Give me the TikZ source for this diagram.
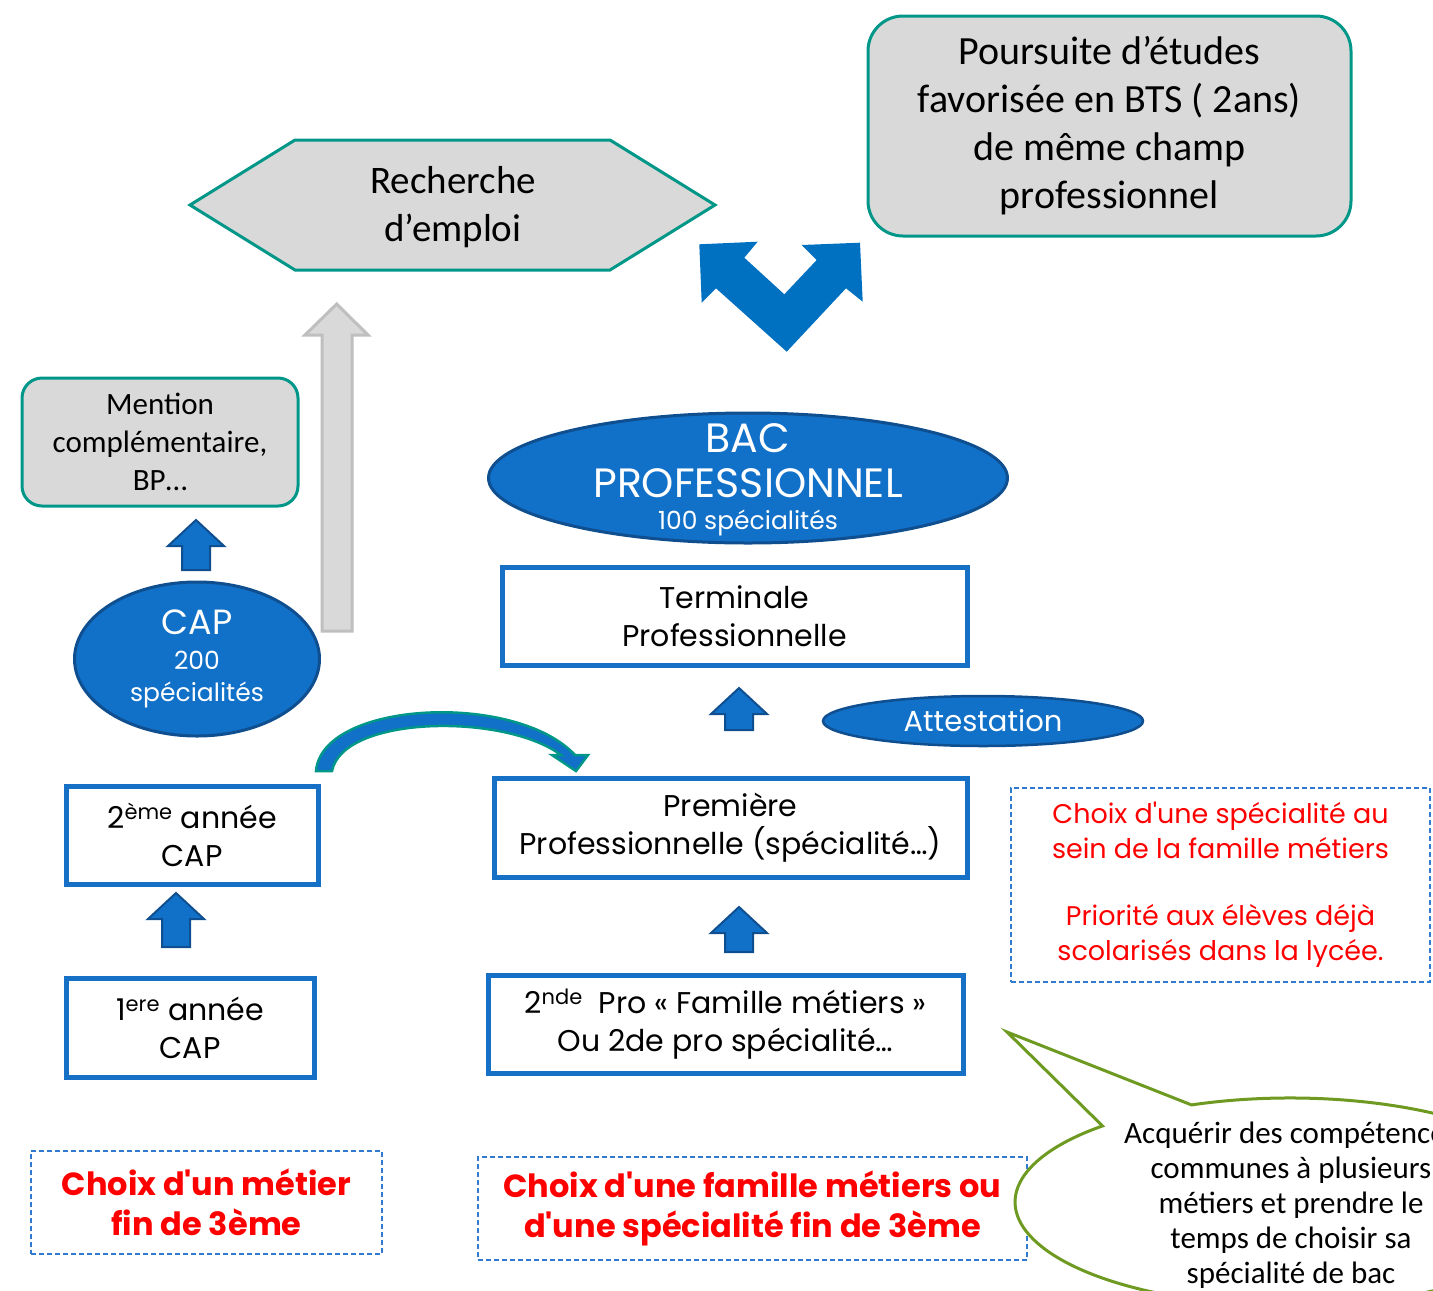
\documentclass[tikz,border=0pt]{standalone}
\usepackage{fontspec}
\setmainfont{Carlito}
\newfontfamily\comic{Poppins}
\usetikzlibrary{shapes.geometric}
\definecolor{grayfill}{HTML}{D9D9D9}
\definecolor{tealb}{HTML}{009688}
\definecolor{boxblue}{HTML}{1570C6}
\definecolor{ellblue}{HTML}{1170C8}
\definecolor{darkblue}{HTML}{0F4E8F}
\definecolor{vblue}{HTML}{0070C0}
\definecolor{redtxt}{HTML}{FF0000}
\definecolor{dashblue}{HTML}{2E7BD0}
\definecolor{olivec}{HTML}{6E9A22}
\definecolor{grayborder}{HTML}{BFBFBF}
\begin{document}
\begin{tikzpicture}[x=1pt,y=-1pt,
  graybox/.style={draw=tealb, fill=grayfill, line width=3pt, align=center, inner sep=0pt},
  stagebox/.style={draw=boxblue, fill=white, line width=5pt, align=center, inner sep=0pt,
     font=\comic\fontsize{30}{38}\selectfont},
  dashbox/.style={draw=dashblue, dash pattern=on 5pt off 3pt, line width=1.5pt, align=center, inner sep=0pt, text=redtxt},
  blueell/.style={ellipse, draw=darkblue, fill=ellblue, line width=3pt, text=white, align=center, inner sep=0pt},
  pics/uparr/.style={code={
    \filldraw[fill=ellblue, draw=darkblue, line width=2pt]
      (0,0) -- (28,26) -- (14,26) -- (14,#1) -- (-14,#1) -- (-14,26) -- (-28,26) -- cycle;}}
]
\useasboundingbox (0,0) rectangle (1433,1291);
\clip (0,0) rectangle (1433,1291);

% Recherche d'emploi hexagon
\filldraw[draw=tealb, fill=grayfill, line width=3pt]
  (190,205) -- (295,140) -- (610,140) -- (715,205) -- (610,270) -- (295,270) -- cycle;
\node[align=center, font=\fontsize{39}{48}\selectfont] (emploi) at (453,207) {Recherche\\d’emploi};

% Poursuite d'etudes
\node[graybox, rounded corners=35pt, minimum width=483pt, minimum height=220pt,
  font=\fontsize{40}{48}\selectfont] (bts) at (1109.5,126)
  {Poursuite d’études\\favorisée en BTS ( 2ans)\\de même champ\\professionnel};

% V double arrow
\fill[vblue] (699.3,244.3) -- (757.7,241.7) -- (744.3,257.7) -- (784.3,294.3) -- (816.7,260)
  -- (801.7,245) -- (860,242.7) -- (862.7,301.7) -- (846,288.3) -- (786.7,351.7)
  -- (716,288.3) -- (701.7,302.7) -- cycle;

% gray up arrow
\filldraw[fill=grayfill, draw=grayborder, line width=3pt]
  (336.7,304) -- (368,335) -- (352,335) -- (352,631) -- (322,631) -- (322,335) -- (305,335) -- cycle;

% Mention complementaire
\node[graybox, rounded corners=20pt, minimum width=276pt, minimum height=128pt,
  font=\fontsize{31}{38}\selectfont] (mention) at (160,442)
  {Mention\\complémentaire,\\BP…};

% CAP ellipse
\node[blueell, minimum width=245pt, minimum height=154pt] (cap) at (197,659) {};
\node[align=center, text=white, font=\comic\fontsize{25}{32}\selectfont] (captext) at (cap.center)
  {\fontsize{35}{32}\selectfont CAP\\[3pt]
   200\\
   spécialités};

% arrow CAP -> mention
\pic at (196,520) {uparr=50};

% BAC PRO ellipse
\node[blueell, minimum width=519pt, minimum height=130pt] (bac) at (748,478) {};
\node[align=center, text=white, font=\comic\fontsize{41}{45}\selectfont] (bactext) at ([yshift=-2pt]bac.center)
  {BAC\\
   PROFESSIONNEL\\[-13pt]
   \fontsize{25}{45}\selectfont 100 spécialités};

% Terminale
\node[stagebox, minimum width=465pt, minimum height=98pt] (term) at (734.5,616)
  {Terminale\\Professionnelle};

% arrow Premiere -> Terminale
\pic at (739,688) {uparr=42};

% Attestation
\node[blueell, minimum width=320pt, minimum height=50pt, line width=2.5pt,
  font=\comic\fontsize{29}{30}\selectfont] (attest) at (983,721) {Attestation};

% Premiere
\node[stagebox, minimum width=473pt, minimum height=99pt] (prem) at (730.5,827.5)
  {Première\\Professionnelle (spécialité…)};

% arrow 2nde -> Premiere
\pic at (739,907) {uparr=45};

% 2nde
\node[stagebox, minimum width=475pt, minimum height=98pt] (snd) at (725.5,1024)
  {2\textsuperscript{nde}\ \ Pro « Famille métiers »\\Ou 2de pro spécialité…};

% CAP years
\node[stagebox, minimum width=252pt, minimum height=98pt] (cap2) at (192,835)
  {2\textsuperscript{ème} année\\CAP};
\node[stagebox, minimum width=248pt, minimum height=99pt] (cap1) at (190,1027.5)
  {1\textsuperscript{ere} année\\CAP};
\pic at (176,893) {uparr=54};

% curved arrow 2eme CAP -> Premiere
\filldraw[fill=ellblue, draw=tealb, line width=2.5pt, line join=miter]
  (316,771) .. controls (322,701) and (515,691) .. (575,755) -- (588,755) -- (576,771)
  -- (552,755) -- (561,755) .. controls (505,713) and (343,715) .. (332,771) -- cycle;

% dashed choice boxes
\node[dashbox, minimum width=351pt, minimum height=103pt,
  font=\comic\bfseries\fontsize{32}{40}\selectfont] (choix1) at (206.5,1202.5)
  {Choix d'un métier\\fin de 3ème};
\node[dashbox, minimum width=549pt, minimum height=103pt,
  font=\comic\bfseries\fontsize{32}{40}\selectfont] (choix2) at (752.5,1208.5)
  {Choix d'une famille métiers ou\\d'une spécialité fin de 3ème};
\node[dashbox, minimum width=419pt, minimum height=194pt,
  font=\comic\fontsize{27}{35}\selectfont] (choix3) at (1220.5,885)
  {Choix d'une spécialité au\\sein de la famille métiers\\[32pt]Priorité aux élèves déjà\\scolarisés dans la lycée.};

% callout
\filldraw[draw=olivec, fill=white, line width=3pt]
  (1007,1032) -- (1191.5,1104.9) arc[start angle=111, end angle=-227, x radius=275pt, y radius=104pt] -- cycle;
\node[align=center, font=\fontsize{31}{35}\selectfont] (bulle) at (1291,1205)
  {Acquérir des compétences\\communes à plusieurs\\métiers et prendre le\\temps de choisir sa\\spécialité de bac};
\end{tikzpicture}
\end{document}
